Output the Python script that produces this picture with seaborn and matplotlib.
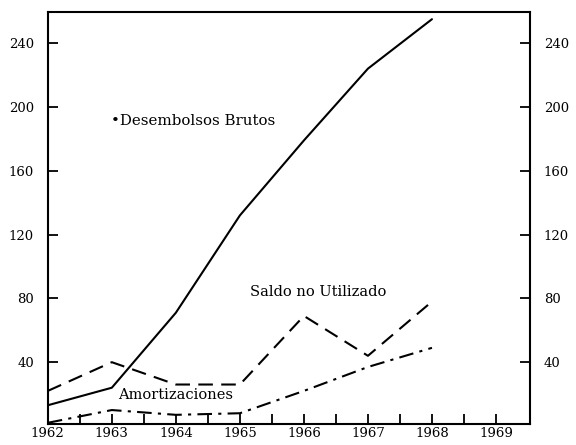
import matplotlib
matplotlib.use("Agg")
import matplotlib.pyplot as plt
import seaborn as sns
import pandas as pd

years = [1962, 1963, 1964, 1965, 1966, 1967, 1968]
desembolsos = [13, 24, 71, 132, 179, 224, 255]
saldo = [22, 40, 26, 26, 69, 44, 78]
amortizaciones = [2, 10, 7, 8, 22, 37, 49]
y_ticks = [40, 80, 120, 160, 200, 240]
x_ticks = [1962, 1963, 1964, 1965, 1966, 1967, 1968, 1969]

sns.set_theme(style="white")
plt.rcParams['font.family'] = ['DejaVu Serif', 'Liberation Serif']
plt.rcParams['text.color'] = 'black'

df = pd.DataFrame({"year": years, "des": desembolsos, "sal": saldo, "amo": amortizaciones})

fig, ax = plt.subplots(figsize=(5.76, 4.45), dpi=100)
fig.subplots_adjust(left=0.083, right=0.920, top=0.973, bottom=0.047)

sns.lineplot(data=df, x="year", y="des", ax=ax, color="black", lw=1.5)
sns.lineplot(data=df, x="year", y="sal", ax=ax, color="black", lw=1.5,
             linestyle=(0, (7, 4)))
sns.lineplot(data=df, x="year", y="amo", ax=ax, color="black", lw=1.5,
             linestyle=(0, (7, 3, 1.5, 3)))

ax.set_xlim(1962, 1969.53)
ax.set_ylim(1.2, 259.5)
ax.set_xlabel("")
ax.set_ylabel("")

ax.set_xticks(x_ticks)
ax.set_xticklabels([str(x) for x in x_ticks])
ax.set_xticks([x + 0.5 for x in x_ticks[:-1]], minor=True)
ax.set_yticks(y_ticks)
ax.set_yticklabels([str(v) for v in y_ticks])

for s in ax.spines.values():
    s.set_color("black")
    s.set_linewidth(1.5)

ax.tick_params(axis="y", which="both", direction="in", length=7, width=1.3,
               left=True, right=True, labelleft=True, labelright=True,
               labelsize=9.5, pad=10, colors="black")
ax.tick_params(axis="x", which="both", direction="in", length=7, width=1.3,
               bottom=True, labelsize=9.5, pad=2, colors="black")

ax.text(1962.98, 191, "\u2022Desembolsos Brutos", fontsize=10.8, va="center", ha="left", color="black")
ax.text(1965.16, 84, "Saldo no Utilizado", fontsize=10.5, va="center", ha="left", color="black")
ax.text(1963.09, 19.5, "Amortizaciones", fontsize=10.5, va="center", ha="left", color="black")

fig.savefig("out.png", dpi=100)
